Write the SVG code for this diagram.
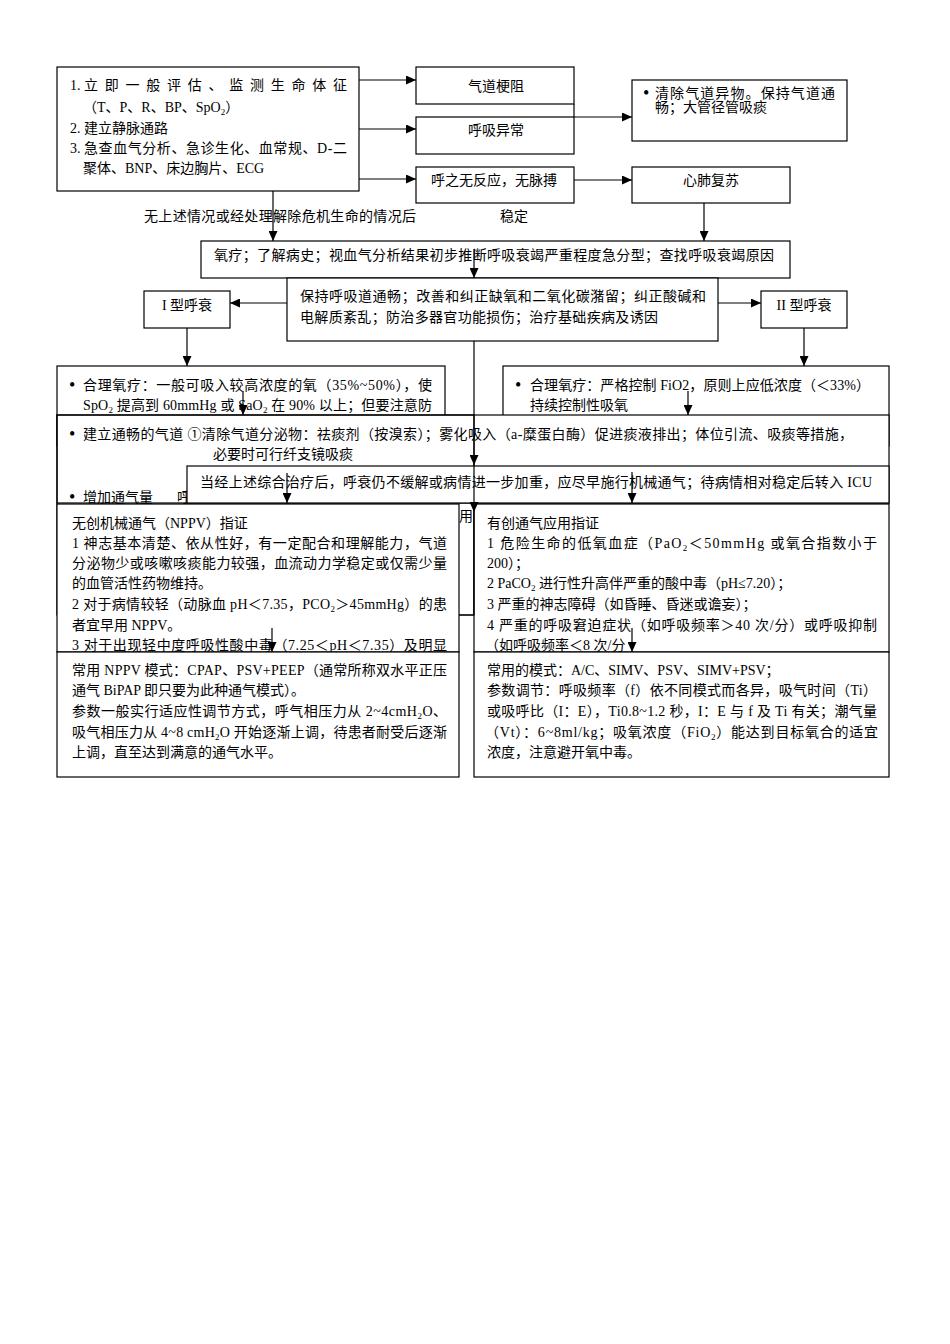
<svg xmlns="http://www.w3.org/2000/svg" width="950" height="1344" viewBox="0 0 950 1344">
<style>
.b{fill:#fff;stroke:#000;stroke-width:1.2}
.o{fill:none;stroke:#000;stroke-width:1.2}
.t{font-family:"Liberation Serif","Noto Sans CJK SC",serif;font-size:14px;fill:#000}
.m{text-anchor:middle}
.c{fill:none;stroke:#000;stroke-width:1.2}
.a{marker-end:url(#ah)}
.s{font-size:9px}
.d{font-family:"Liberation Serif",serif;font-size:18px;fill:#000}
</style>
<defs>
<marker id="ah" markerUnits="userSpaceOnUse" markerWidth="10" markerHeight="9" refX="10" refY="4.5" orient="auto">
<path d="M0,0 L10,4.5 L0,9 z" fill="#000"/>
</marker>
</defs>
<rect width="950" height="1344" fill="#fff"/>

<g id="assess">
<rect class="b" x="57" y="67" width="302" height="124"/>
<text class="t" x="70" y="90">1.</text>
<text class="t" x="84" y="90" textLength="263">立即一般评估、监测生命体征</text>
<text class="t" x="83" y="112">（T、P、R、BP、SpO<tspan class="s" dy="3">2</tspan><tspan dy="-3">）</tspan></text>
<text class="t" x="70" y="133">2. 建立静脉通路</text>
<text class="t" x="70" y="153">3.</text>
<text class="t" x="84" y="153" textLength="263">急查血气分析、急诊生化、血常规、D-二</text>
<text class="t" x="83" y="173">聚体、BNP、床边胸片、ECG</text>
</g>

<g id="obstruct">
<rect class="b" x="416" y="67" width="158" height="37"/>
<text class="t m" x="496" y="91">气道梗阻</text>
</g>
<g id="abnormal">
<rect class="b" x="416" y="117" width="158" height="37"/>
<text class="t m" x="496" y="135">呼吸异常</text>
</g>
<g id="noresp">
<rect class="b" x="416" y="167" width="158" height="36"/>
<text class="t m" x="494" y="185">呼之无反应，无脉搏</text>
</g>
<g id="clear">
<rect class="b" x="632" y="80" width="215" height="61"/>
<text class="d" x="643" y="99">•</text>
<text class="t" x="655" y="98" textLength="180">清除气道异物。保持气道通</text>
<text class="t" x="655" y="112">畅；大管径管吸痰</text>
</g>
<g id="cpr">
<rect class="b" x="632" y="167" width="158" height="36"/>
<text class="t m" x="711" y="185">心肺复苏</text>
</g>

<g id="labels">
<text class="t" x="144" y="221" textLength="272">无上述情况或经处理解除危机生命的情况后</text>
<text class="t" x="500" y="221">稳定</text>
</g>

<g id="oxy">
<rect class="b" x="201" y="241" width="589" height="37"/>
<text class="t" x="214" y="260" textLength="560">氧疗；了解病史；视血气分析结果初步推断呼吸衰竭严重程度急分型；查找呼吸衰竭原因</text>
</g>
<g id="keep">
<rect class="b" x="287" y="278" width="431" height="63"/>
<text class="t" x="300" y="301" textLength="406">保持呼吸道通畅；改善和纠正缺氧和二氧化碳潴留；纠正酸碱和</text>
<text class="t" x="300" y="322" textLength="358">电解质紊乱；防治多器官功能损伤；治疗基础疾病及诱因</text>
</g>
<g id="type1">
<rect class="b" x="144" y="291" width="86" height="37"/>
<text class="t m" x="187" y="310">I 型呼衰</text>
</g>
<g id="type2">
<rect class="b" x="761" y="291" width="86" height="37"/>
<text class="t m" x="804" y="310">II 型呼衰</text>
</g>

<g id="oxy1">
<rect class="b" x="57" y="366" width="388" height="80"/>
<text class="d" x="69" y="391">•</text>
<text class="t" x="83" y="390" textLength="349">合理氧疗：一般可吸入较高浓度的氧（35%~50%），使</text>
<text class="t" x="83" y="410" textLength="349">SpO<tspan class="s" dy="3">2</tspan><tspan dy="-3"> 提高到 60mmHg 或 SaO</tspan><tspan class="s" dy="3">2</tspan><tspan dy="-3"> 在 90% 以上；但要注意防</tspan></text>
</g>
<g id="oxy2">
<rect class="b" x="503" y="366" width="386" height="80"/>
<text class="d" x="515" y="391">•</text>
<text class="t" x="530" y="390" textLength="340">合理氧疗：严格控制 FiO2，原则上应低浓度（＜33%）</text>
<text class="t" x="530" y="410">持续控制性吸氧</text>
</g>

<g id="airway">
<rect class="b" x="57" y="415" width="832" height="88"/>
<text class="d" x="69" y="440">•</text>
<text class="t" x="83" y="439" textLength="770">建立通畅的气道 ①清除气道分泌物：祛痰剂（按溴索）；雾化吸入（a-糜蛋白酶）促进痰液排出；体位引流、吸痰等措施，</text>
<text class="t" x="213" y="459">必要时可行纤支镜吸痰</text>
</g>
<g id="ventilation">
<rect class="o" x="57" y="415" width="417" height="200"/>
<text class="d" x="69" y="503">•</text>
<text class="t" x="83" y="502">增加通气量</text>
<text class="t" x="177" y="502">呼</text>
<text class="t" x="459" y="521">用</text>
</g>
<g id="mech">
<rect class="b" x="187" y="466" width="702" height="37"/>
<text class="t" x="200" y="487" textLength="672">当经上述综合治疗后，呼衰仍不缓解或病情进一步加重，应尽早施行机械通气；待病情相对稳定后转入 ICU</text>
</g>

<g id="nppv">
<rect class="b" x="57" y="504" width="402" height="148"/>
<text class="t" x="72" y="528">无创机械通气（NPPV）指证</text>
<text class="t" x="72" y="548" textLength="375">1 神志基本清楚、依从性好，有一定配合和理解能力，气道</text>
<text class="t" x="72" y="568" textLength="375">分泌物少或咳嗽咳痰能力较强，血流动力学稳定或仅需少量</text>
<text class="t" x="72" y="588">的血管活性药物维持。</text>
<text class="t" x="72" y="609" textLength="375">2 对于病情较轻（动脉血 pH＜7.35，PCO<tspan class="s" dy="3">2</tspan><tspan dy="-3">＞45mmHg）的患</tspan></text>
<text class="t" x="72" y="630">者宜早用 NPPV。</text>
<text class="t" x="72" y="650" textLength="375">3 对于出现轻中度呼吸性酸中毒（7.25＜pH＜7.35）及明显</text>
</g>
<g id="invasive">
<rect class="b" x="474" y="504" width="415" height="148"/>
<text class="t" x="487" y="528">有创通气应用指证</text>
<text class="t" x="487" y="548" textLength="390">1 危险生命的低氧血症（PaO<tspan class="s" dy="3">2</tspan><tspan dy="-3">＜50mmHg 或氧合指数小于</tspan></text>
<text class="t" x="487" y="568">200）；</text>
<text class="t" x="487" y="588">2 PaCO<tspan class="s" dy="3">2</tspan><tspan dy="-3"> 进行性升高伴严重的酸中毒（pH≤7.20）；</tspan></text>
<text class="t" x="487" y="609">3 严重的神志障碍（如昏睡、昏迷或谵妄）；</text>
<text class="t" x="487" y="630" textLength="390">4 严重的呼吸窘迫症状（如呼吸频率＞40 次/分）或呼吸抑制</text>
<text class="t" x="485" y="650">（如呼吸频率＜8 次/分</text>
</g>

<g id="nppvmode">
<rect class="b" x="57" y="652" width="402" height="125"/>
<text class="t" x="72" y="675" textLength="375">常用 NPPV 模式：CPAP、PSV+PEEP（通常所称双水平正压</text>
<text class="t" x="72" y="695">通气 BiPAP 即只要为此种通气模式）。</text>
<text class="t" x="72" y="716" textLength="375">参数一般实行适应性调节方式，呼气相压力从 2~4cmH<tspan class="s" dy="3">2</tspan><tspan dy="-3">O、</tspan></text>
<text class="t" x="72" y="737" textLength="375">吸气相压力从 4~8 cmH<tspan class="s" dy="3">2</tspan><tspan dy="-3">O 开始逐渐上调，待患者耐受后逐渐</tspan></text>
<text class="t" x="72" y="757">上调，直至达到满意的通气水平。</text>
</g>
<g id="invmode">
<rect class="b" x="474" y="652" width="415" height="125"/>
<text class="t" x="487" y="675">常用的模式：A/C、SIMV、PSV、SIMV+PSV；</text>
<text class="t" x="487" y="695" textLength="390">参数调节：呼吸频率（f）依不同模式而各异，吸气时间（Ti）</text>
<text class="t" x="487" y="716" textLength="390">或吸呼比（I：E），Ti0.8~1.2 秒，I：E 与 f 及 Ti 有关；潮气量</text>
<text class="t" x="485" y="737" textLength="393">（Vt）：6~8ml/kg；吸氧浓度（FiO<tspan class="s" dy="3">2</tspan><tspan dy="-3">）能达到目标氧合的适宜</tspan></text>
<text class="t" x="487" y="757">浓度，注意避开氧中毒。</text>
</g>

<g id="connectors">
<path class="c a" d="M359,80 H416"/>
<path class="c a" d="M359,129 H416"/>
<path class="c a" d="M359,179 H416"/>
<path class="c a" d="M574,104 V117 H632"/>
<path class="c a" d="M574,180 H632"/>
<path class="c a" d="M704,203 V241"/>
<path class="c a" d="M273,191 V241"/>
<path class="c a" d="M474,249 V278"/>
<path class="c a" d="M287,303 H230"/>
<path class="c a" d="M718,303 H761"/>
<path class="c a" d="M187,328 V366"/>
<path class="c a" d="M804,328 V366"/>
<path class="c a" d="M243,391 V415"/>
<path class="c a" d="M688,391 V415"/>
<path class="c a" d="M474,341 V465"/>
<path class="c a" d="M474,465 V512"/>
<path class="c" d="M474,512 V615 H459"/>
<path class="c a" d="M287,473 V503"/>
<path class="c a" d="M632,472 V503"/>
<path class="c a" d="M272,628 V652"/>
<path class="c a" d="M632,628 V652"/>
</g>
</svg>
